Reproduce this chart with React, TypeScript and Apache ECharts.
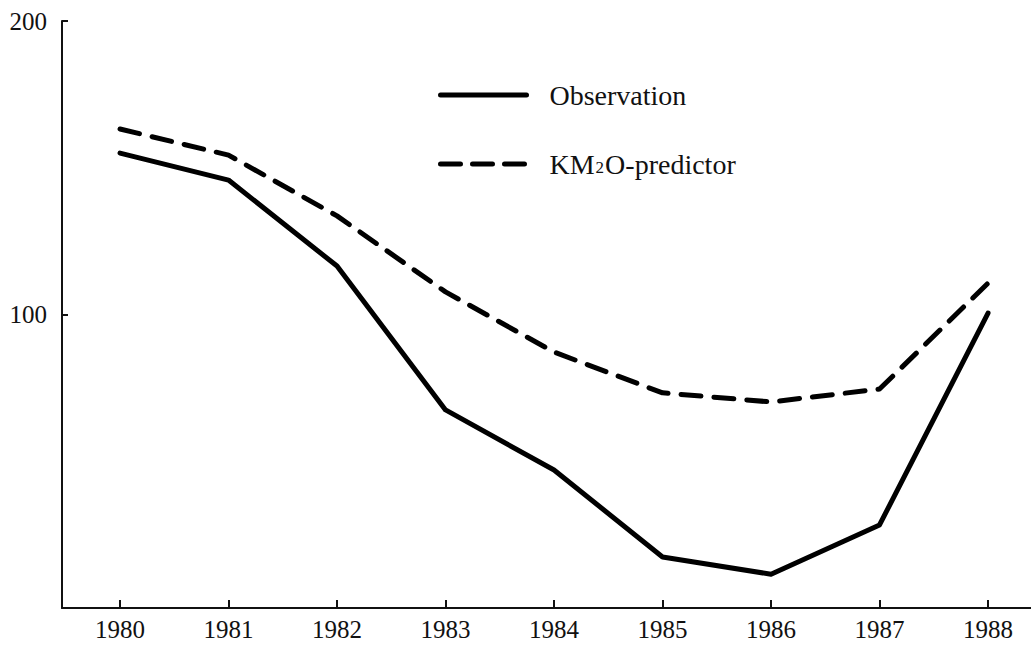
import React, { useEffect, useRef } from "react";
import * as echarts from "echarts";

const years = [1980, 1981, 1982, 1983, 1984, 1985, 1986, 1987, 1988];
const observation = [155, 145.8, 116.5, 67.5, 47, 17.4, 11.5, 28.3, 100.5];
const predictor = [163.2, 154.3, 133.6, 107.7, 87.2, 73.3, 70.2, 74.6, 110.7];
const yTickLabels = [100, 200];
const seriesNames = ["Observation", "KM2O-predictor"];

const FONT = "Liberation Serif";

export default function App() {
  const ref = useRef<HTMLDivElement>(null);
  useEffect(() => {
    if (!ref.current) return;
    const chart = echarts.init(ref.current, null, { renderer: "svg" });
    const legendText = (name: string) =>
      name === "KM2O-predictor" ? "KM{sub|2}O-predictor" : name;
    chart.setOption({
      animation: false,
      backgroundColor: "#ffffff",
      textStyle: { fontFamily: FONT },
      grid: { left: 62, top: 21, right: 0, bottom: 38, containLabel: false },
      legend: { show: false },
      graphic: [0, 1].map((i) => ({
        type: "group",
        left: 438,
        top: 81 + i * 69,
        children: [
          {
            type: "line",
            shape: { x1: 2, y1: 14, x2: 88, y2: 14 },
            style: {
              stroke: "#000",
              lineWidth: 5,
              lineCap: "round",
              lineDash: i === 0 ? null : [20, 12],
            },
          },
          {
            type: "text",
            x: 111,
            y: 0,
            style: {
              text: legendText(seriesNames[i]),
              fontFamily: FONT,
              fontSize: 28,
              fill: "#111",
              rich: {
                sub: { fontFamily: FONT, fontSize: 17, fill: "#111", padding: [7, 1, 0, 1] },
              },
            },
          },
        ],
      })),
      xAxis: {
        type: "value",
        min: 1979.4654,
        max: 1988.396,
        axisLine: { show: true, lineStyle: { color: "#111", width: 2 } },
        axisTick: {
          show: true,
          inside: true,
          length: 8,
          lineStyle: { color: "#111", width: 2 },
          customValues: years,
        },
        axisLabel: {
          customValues: years,
          formatter: (v: number) => String(Math.round(v)),
          fontFamily: FONT,
          fontSize: 25,
          color: "#111",
          margin: 9,
        },
        splitLine: { show: false },
      },
      yAxis: {
        type: "value",
        min: 0,
        max: 200,
        axisLine: { show: true, lineStyle: { color: "#111", width: 2 } },
        axisTick: {
          show: true,
          inside: true,
          length: 6,
          lineStyle: { color: "#111", width: 2 },
          customValues: yTickLabels,
        },
        axisLabel: {
          customValues: yTickLabels,
          fontFamily: FONT,
          fontSize: 25,
          color: "#111",
          margin: 15,
        },
        splitLine: { show: false },
      },
      series: [
        {
          name: seriesNames[0],
          type: "line",
          data: years.map((y, i) => [y, observation[i]]),
          symbol: "none",
          lineStyle: { color: "#000", width: 5, type: "solid", cap: "round", join: "round" },
          itemStyle: { color: "#000" },
        },
        {
          name: seriesNames[1],
          type: "line",
          data: years.map((y, i) => [y, predictor[i]]),
          symbol: "none",
          lineStyle: { color: "#000", width: 5, type: [20, 13], cap: "round", join: "round" },
          itemStyle: { color: "#000" },
        },
      ],
    });
    return () => chart.dispose();
  }, []);
  return (
    <div
      ref={ref}
      style={{ position: "fixed", left: 0, top: 0, width: 1031, height: 646, background: "#fff" }}
    />
  );
}
